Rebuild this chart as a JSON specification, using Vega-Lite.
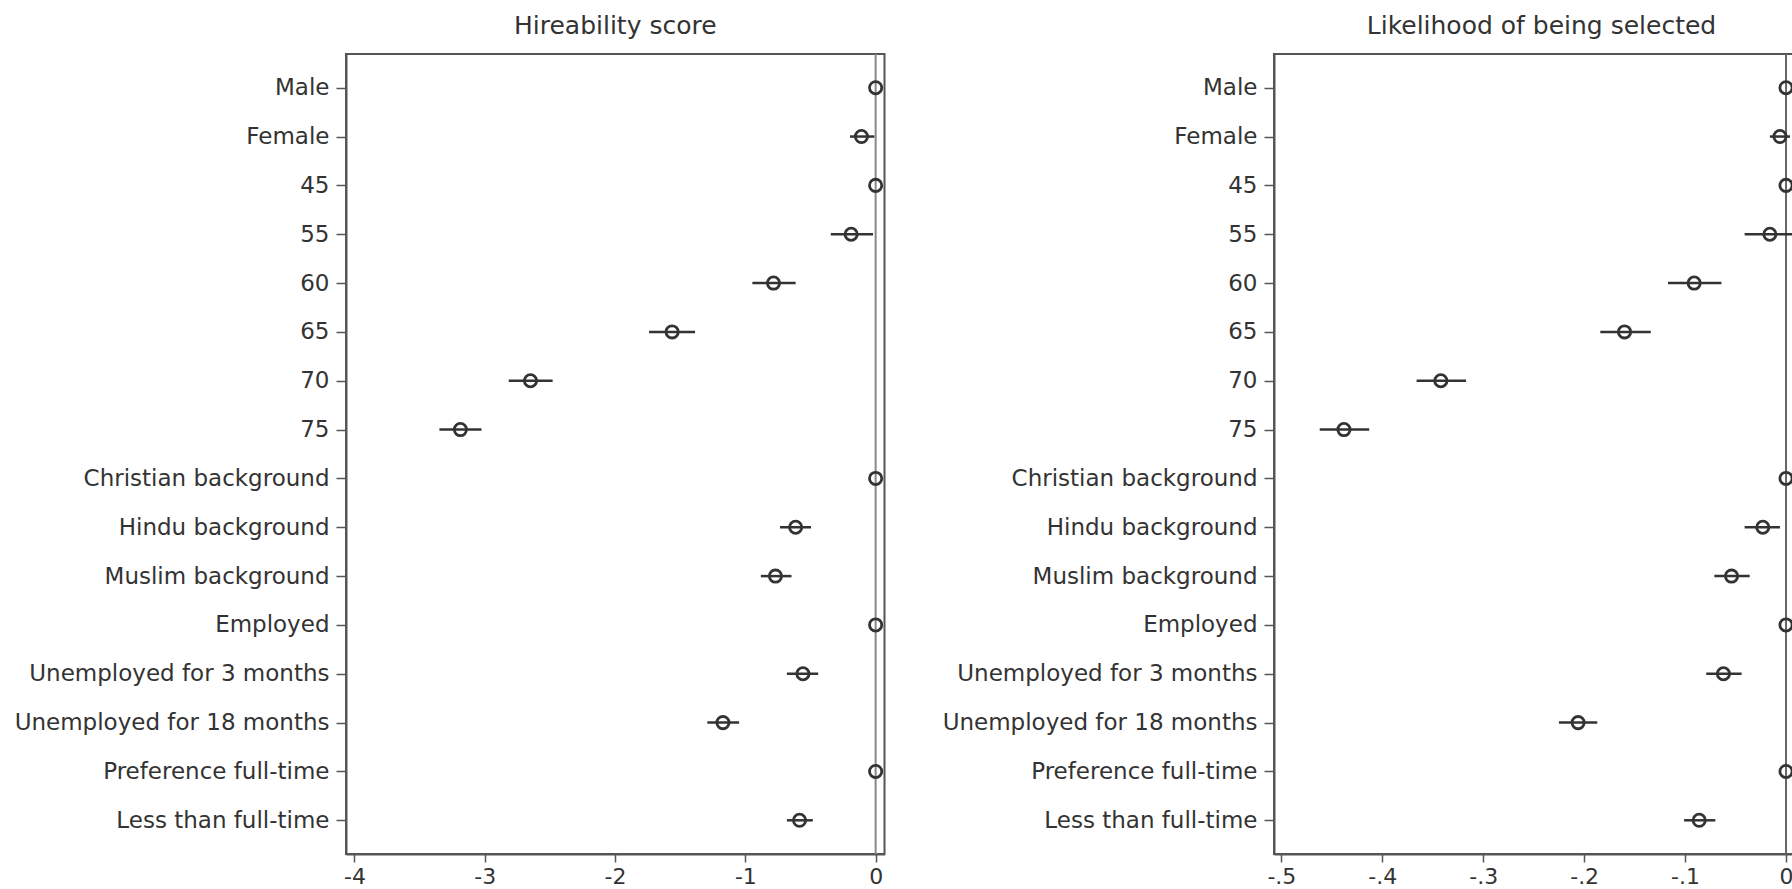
{
  "$schema": "https://vega.github.io/schema/vega-lite/v6.json",
  "padding": {"left": 13, "top": 13, "right": -4, "bottom": 0},
  "background": "white",
  "config": {
    "font": "DejaVu Sans",
    "view": {"stroke": "#555", "strokeWidth": 2},
    "axis": {"grid": false, "labelFont": "DejaVu Sans", "labelFontSize": 23, "labelColor": "#333", "labelLimit": 500, "domainColor": "#555", "domainWidth": 2, "tickColor": "#555", "tickWidth": 1.5},
    "title": {"font": "DejaVu Sans", "fontSize": 25, "fontWeight": "normal", "color": "#333", "baseline": "alphabetic", "offset": 14},
    "concat": {"spacing": 52}
  },
  "datasets": {
    "est": [
      {"panel": "H", "label": "Male", "est": 0, "lo": 0, "hi": 0},
      {"panel": "H", "label": "Female", "est": -0.109, "lo": -0.197, "hi": -0.01},
      {"panel": "H", "label": "45", "est": 0, "lo": 0, "hi": 0},
      {"panel": "H", "label": "55", "est": -0.188, "lo": -0.344, "hi": -0.02},
      {"panel": "H", "label": "60", "est": -0.784, "lo": -0.946, "hi": -0.614},
      {"panel": "H", "label": "65", "est": -1.562, "lo": -1.739, "hi": -1.386},
      {"panel": "H", "label": "70", "est": -2.649, "lo": -2.816, "hi": -2.479},
      {"panel": "H", "label": "75", "est": -3.187, "lo": -3.348, "hi": -3.025},
      {"panel": "H", "label": "Christian background", "est": 0, "lo": 0, "hi": 0},
      {"panel": "H", "label": "Hindu background", "est": -0.614, "lo": -0.734, "hi": -0.496},
      {"panel": "H", "label": "Muslim background", "est": -0.769, "lo": -0.881, "hi": -0.646},
      {"panel": "H", "label": "Employed", "est": 0, "lo": 0, "hi": 0},
      {"panel": "H", "label": "Unemployed for 3 months", "est": -0.558, "lo": -0.681, "hi": -0.441},
      {"panel": "H", "label": "Unemployed for 18 months", "est": -1.172, "lo": -1.292, "hi": -1.048},
      {"panel": "H", "label": "Preference full-time", "est": 0, "lo": 0, "hi": 0},
      {"panel": "H", "label": "Less than full-time", "est": -0.584, "lo": -0.681, "hi": -0.482},
      {"panel": "L", "label": "Male", "est": 0, "lo": 0, "hi": 0},
      {"panel": "L", "label": "Female", "est": -0.006, "lo": -0.016, "hi": 0.004},
      {"panel": "L", "label": "45", "est": 0, "lo": 0, "hi": 0},
      {"panel": "L", "label": "55", "est": -0.016, "lo": -0.041, "hi": 0.008},
      {"panel": "L", "label": "60", "est": -0.091, "lo": -0.117, "hi": -0.064},
      {"panel": "L", "label": "65", "est": -0.16, "lo": -0.184, "hi": -0.134},
      {"panel": "L", "label": "70", "est": -0.342, "lo": -0.366, "hi": -0.317},
      {"panel": "L", "label": "75", "est": -0.438, "lo": -0.462, "hi": -0.413},
      {"panel": "L", "label": "Christian background", "est": 0, "lo": 0, "hi": 0},
      {"panel": "L", "label": "Hindu background", "est": -0.023, "lo": -0.041, "hi": -0.006},
      {"panel": "L", "label": "Muslim background", "est": -0.054, "lo": -0.071, "hi": -0.036},
      {"panel": "L", "label": "Employed", "est": 0, "lo": 0, "hi": 0},
      {"panel": "L", "label": "Unemployed for 3 months", "est": -0.062, "lo": -0.079, "hi": -0.044},
      {"panel": "L", "label": "Unemployed for 18 months", "est": -0.206, "lo": -0.225, "hi": -0.187},
      {"panel": "L", "label": "Preference full-time", "est": 0, "lo": 0, "hi": 0},
      {"panel": "L", "label": "Less than full-time", "est": -0.086, "lo": -0.101, "hi": -0.07}
    ],
    "ref": [{"ref": 0}]
  },
  "hconcat": [
    {
      "width": 538.5,
      "height": 800,
      "title": "Hireability score",
      "layer": [
        {
          "data": {"name": "ref"},
          "mark": {"type": "rule", "color": "#888", "strokeWidth": 2},
          "encoding": {
            "x": {"field": "ref", "type": "quantitative", "scale": {"domain": [-4.065, 0.068], "nice": false, "zero": false},
              "axis": {"title": null, "values": [-4, -3, -2, -1, 0], "labelExpr": "datum.value == 0 ? '0' : '-' + round(-datum.value)", "tickSize": 8, "labelPadding": 4, "labelFontSize": 22}}
          }
        },
        {
          "data": {"name": "est"},
          "transform": [{"filter": "datum.panel == 'H'"}],
          "mark": {"type": "rule", "color": "#333", "strokeWidth": 2.5},
          "encoding": {
            "x": {"field": "lo", "type": "quantitative", "scale": {"domain": [-4.065, 0.068], "nice": false, "zero": false}},
            "x2": {"field": "hi"},
            "y": {"field": "label", "type": "nominal", "sort": ["Male", "Female", "45", "55", "60", "65", "70", "75", "Christian background", "Hindu background", "Muslim background", "Employed", "Unemployed for 3 months", "Unemployed for 18 months", "Preference full-time", "Less than full-time"],
              "scale": {"type": "point", "padding": 0.69}, "axis": {"title": null, "tickSize": 10, "labelPadding": 7}}
          }
        },
        {
          "data": {"name": "est"},
          "transform": [{"filter": "datum.panel == 'H'"}],
          "mark": {"type": "point", "shape": "circle", "filled": false, "size": 150, "strokeWidth": 2.8, "color": "#333", "opacity": 1},
          "encoding": {
            "x": {"field": "est", "type": "quantitative", "scale": {"domain": [-4.065, 0.068], "nice": false, "zero": false}},
            "y": {"field": "label", "type": "nominal", "sort": ["Male", "Female", "45", "55", "60", "65", "70", "75", "Christian background", "Hindu background", "Muslim background", "Employed", "Unemployed for 3 months", "Unemployed for 18 months", "Preference full-time", "Less than full-time"],
              "scale": {"type": "point", "padding": 0.69}}
          }
        }
      ]
    },
    {
      "width": 521,
      "height": 800,
      "title": {"text": "Likelihood of being selected", "dx": 7},
      "layer": [
        {
          "data": {"name": "ref"},
          "mark": {"type": "rule", "color": "#666", "strokeWidth": 2},
          "encoding": {
            "x": {"field": "ref", "type": "quantitative", "scale": {"domain": [-0.5073, 0.0089], "nice": false, "zero": false},
              "axis": {"title": null, "values": [-0.5, -0.4, -0.3, -0.2, -0.1, 0], "labelExpr": "datum.value == 0 ? '0' : '-.' + round(-datum.value * 10)", "tickSize": 8, "labelPadding": 4, "labelFontSize": 22}}
          }
        },
        {
          "data": {"name": "est"},
          "transform": [{"filter": "datum.panel == 'L'"}],
          "mark": {"type": "rule", "color": "#333", "strokeWidth": 2.5},
          "encoding": {
            "x": {"field": "lo", "type": "quantitative", "scale": {"domain": [-0.5073, 0.0089], "nice": false, "zero": false}},
            "x2": {"field": "hi"},
            "y": {"field": "label", "type": "nominal", "sort": ["Male", "Female", "45", "55", "60", "65", "70", "75", "Christian background", "Hindu background", "Muslim background", "Employed", "Unemployed for 3 months", "Unemployed for 18 months", "Preference full-time", "Less than full-time"],
              "scale": {"type": "point", "padding": 0.69}, "axis": {"title": null, "tickSize": 10, "labelPadding": 7}}
          }
        },
        {
          "data": {"name": "est"},
          "transform": [{"filter": "datum.panel == 'L'"}],
          "mark": {"type": "point", "shape": "circle", "filled": false, "size": 150, "strokeWidth": 2.8, "color": "#333", "opacity": 1},
          "encoding": {
            "x": {"field": "est", "type": "quantitative", "scale": {"domain": [-0.5073, 0.0089], "nice": false, "zero": false}},
            "y": {"field": "label", "type": "nominal", "sort": ["Male", "Female", "45", "55", "60", "65", "70", "75", "Christian background", "Hindu background", "Muslim background", "Employed", "Unemployed for 3 months", "Unemployed for 18 months", "Preference full-time", "Less than full-time"],
              "scale": {"type": "point", "padding": 0.69}}
          }
        }
      ]
    }
  ]
}
